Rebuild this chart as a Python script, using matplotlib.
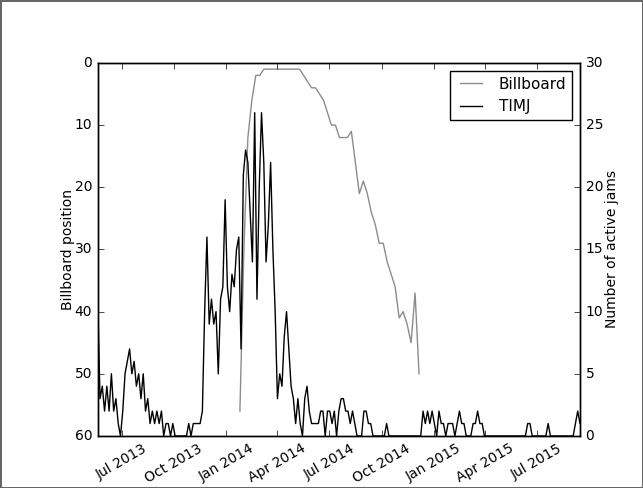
import pandas as pd
import matplotlib
matplotlib.use("Agg")
import matplotlib.pyplot as plt
import matplotlib.dates as mdates

# TIMJ: number of active jams, sampled every 4 days from 2013-05-20
timj_start = "2013-05-20"
timj_step_days = 4
timj_jams = [
    11, 3, 4, 2, 4, 2, 5, 2, 3, 1,          # May-Jun 2013
    0, 2, 5, 6, 7, 5, 6, 4, 5, 3,           # Jul 2013
    5, 2, 3, 1, 2, 1, 2, 1, 2, 0,           # Aug-Sep 2013
    1, 1, 0, 1, 0, 0, 0, 0, 0, 0,           # Sep-Oct 2013
    1, 0, 1, 1, 1, 1, 2, 10, 16, 9,         # Nov 2013
    11, 9, 10, 5, 11, 12, 19, 12, 10, 13,   # Dec 2013
    12, 15, 16, 7, 21, 23, 22, 18, 14, 26,  # Jan-Feb 2014
    11, 20, 26, 22, 14, 17, 22, 15, 10, 3,  # Feb-Mar 2014
    5, 4, 8, 10, 7, 4, 3, 1, 3, 1,          # Apr-May 2014
    0, 3, 4, 2, 1, 1, 1, 1, 2, 2,           # May-Jun 2014
    0, 2, 2, 1, 2, 0, 2, 3, 3, 2,           # Jul 2014
    2, 1, 2, 1, 0, 0, 0, 2, 2, 1,           # Aug-Sep 2014
    1, 0, 0, 0, 0, 0, 0, 1, 0, 0,           # Sep-Oct 2014
    0, 0, 0, 0, 0, 0, 0, 0, 0, 0,           # Oct-Nov 2014
    0, 0, 0, 2, 1, 2, 1, 2, 1, 0,           # Nov-Dec 2014
    2, 1, 1, 0, 1, 1, 1, 0, 1, 2,           # Dec 2014-Jan 2015
    1, 1, 0, 0, 0, 1, 1, 2, 1, 1,           # Jan-Feb 2015
    0, 0, 0, 0, 0, 0, 0, 0, 0, 0,           # Mar 2015
    0, 0, 0, 0, 0, 0, 0, 0, 0, 1,           # Apr-May 2015
    1, 0, 0, 0, 0, 0, 0, 0, 1, 0,           # May-Jun 2015
    0, 0, 0, 0, 0, 0, 0, 0, 0, 0,           # Jul-Aug 2015
    1, 2, 1,                                # Sep 2015
]

# Billboard chart position, weekly from 2014-01-25
billboard_start = "2014-01-25"
billboard_pos = [
    56, 30, 12, 6, 2, 2, 1, 1, 1, 1,
    1, 1, 1, 1, 1, 1, 2, 3, 4, 4,
    5, 6, 8, 10, 10, 12, 12, 12, 11, 16,
    21, 19, 21, 24, 26, 29, 29, 32, 34, 36,
    41, 40, 42, 45, 37, 50,
]

plt.style.use("classic")
plt.rcParams["font.size"] = 10

timj_dates = pd.date_range(timj_start, periods=len(timj_jams),
                           freq=f"{timj_step_days}D")
bb_dates = pd.date_range(billboard_start, periods=len(billboard_pos), freq="7D")

fig = plt.figure(figsize=(6.43, 4.88), dpi=100, facecolor="white",
                 edgecolor="0.4", linewidth=1.0)
ax = fig.add_axes([0.152, 0.1066, 0.750, 0.7644])
ax2 = ax.twinx()

l1, = ax.plot(bb_dates, billboard_pos, color="0.55", lw=1.0, label="Billboard")
l2, = ax2.plot(timj_dates, timj_jams, color="black", lw=1.0, label="TIMJ")

ax.set_ylim(60, 0)
ax.set_yticks(range(0, 61, 10))
ax2.set_ylim(0, 30)
ax2.set_yticks(range(0, 31, 5))
ax.set_xlim(timj_dates[0], timj_dates[-1])

ax.xaxis.set_major_locator(mdates.MonthLocator(bymonth=[1, 4, 7, 10]))
ax.xaxis.set_major_formatter(mdates.DateFormatter("%b %Y"))
for lab in ax.get_xticklabels():
    lab.set_rotation(30)
    lab.set_ha("center")

ax.set_ylabel("Billboard position", labelpad=0)
ax2.set_ylabel("Number of active jams", labelpad=1)

ax2.legend([l1, l2], ["Billboard", "TIMJ"], loc="upper right",
           fontsize=11, frameon=True)

fig.savefig("out.png", dpi=100, facecolor="white", edgecolor="0.4")
